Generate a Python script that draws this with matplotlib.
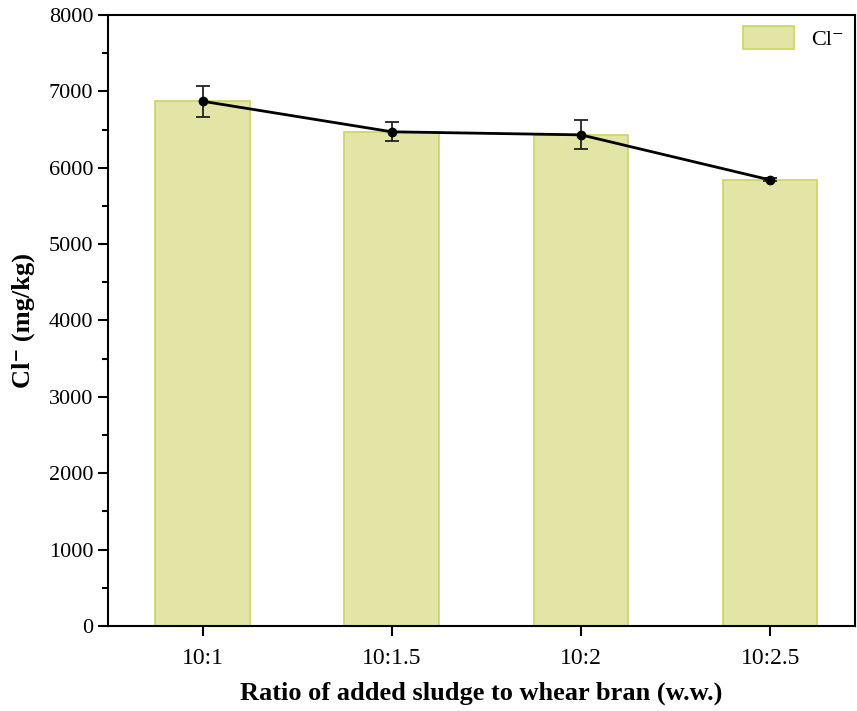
import numpy as np
import matplotlib
matplotlib.use("Agg")
import matplotlib.pyplot as plt

ratios = ['10:1', '10:1.5', '10:2', '10:2.5']
cl_values = [6870, 6470, 6430, 5840]
cl_err = [200, 125, 190, 20]

plt.rcParams['font.family'] = ['Liberation Serif', 'DejaVu Serif']

fig = plt.figure(figsize=(8.57, 7.11), dpi=100)
ax = fig.add_axes([0.126, 0.1195, 0.872, 0.8595])

x = np.arange(1, len(ratios) + 1)
ax.bar(x, cl_values, width=0.5, color='#e3e5a6', edgecolor='#cdd35e',
       linewidth=1.2, label='Cl⁻', zorder=2)
ax.errorbar(x, cl_values, yerr=cl_err, color='black', marker='o', markersize=6,
            linewidth=2, ecolor='#222222', elinewidth=1.3, capsize=5, capthick=1.3,
            zorder=3)

ax.set_xlim(0.5, 4.45)
ax.set_ylim(0, 8000)
ax.set_xticks(x)
ax.set_xticklabels(ratios, fontsize=17)
ax.set_yticks(np.arange(0, 8001, 1000))
ax.set_yticks(np.arange(500, 8000, 1000), minor=True)
ax.tick_params(axis='y', labelsize=16, width=1.5, length=7, direction='out')
ax.tick_params(axis='y', which='minor', width=1.5, length=4)
ax.tick_params(axis='x', width=1.5, length=7, direction='out', pad=9)

for s in ax.spines.values():
    s.set_linewidth(1.5)

ax.set_xlabel('Ratio of added sludge to whear bran (w.w.)', fontsize=19,
              fontweight='bold', labelpad=9)
ax.set_ylabel('Cl⁻ (mg/kg)', fontsize=19, fontweight='bold', labelpad=10)

ax.legend(loc='upper right', frameon=False, fontsize=16, handlelength=2.3,
          handleheight=1.2, borderaxespad=0.2, borderpad=0.3)

fig.savefig('out.png', dpi=100)
